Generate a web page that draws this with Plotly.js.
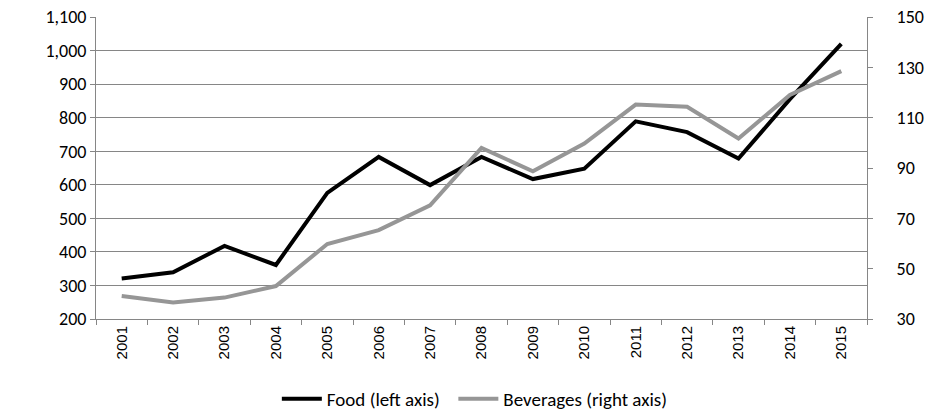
<!DOCTYPE html>
<html><head><meta charset="utf-8">
<script src="https://cdn.plot.ly/plotly-3.0.1.min.js"></script>
<style>html,body{margin:0;padding:0;background:#fff}#c{width:929px;height:412px}</style>
</head><body><div id="c"></div>
<script>
const years = ["2001","2002","2003","2004","2005","2006","2007","2008","2009","2010","2011","2012","2013","2014","2015"];
const food = [321, 339, 418, 361, 576, 683, 599, 683, 617, 648, 789, 757, 678, 855, 1020];
const beverages = [39.1, 36.6, 38.5, 43.1, 59.8, 65.3, 75.2, 98.0, 88.7, 99.7, 115.2, 114.3, 101.7, 119.0, 128.5];
const leftTicks = [200,300,400,500,600,700,800,900,1000,1100];
const rightTicks = [30,50,70,90,110,130,150];

const labFont = {family: "Carlito, Lato, 'Open Sans', sans-serif", size: 18, color: "#000"};
const legFont = {family: "Carlito, Lato, 'Open Sans', sans-serif", size: 19, color: "#000"};
const traces = [
  {x: years, y: food, type: "scatter", mode: "lines", name: "Food (left axis)",
   line: {color: "#000000", width: 4}, yaxis: "y", legend: "legend"},
  {x: years, y: beverages, type: "scatter", mode: "lines", name: "Beverages (right axis)",
   line: {color: "#969696", width: 4}, yaxis: "y2", legend: "legend2"}
];
const legCommon = {orientation: "h", xanchor: "left", xref: "container", y: 0.032, yanchor: "middle", yref: "container",
                   font: legFont, itemwidth: 40, bgcolor: "rgba(0,0,0,0)"};
const layout = {
  width: 929, height: 412,
  margin: {l: 96, r: 62, t: 17, b: 93},
  paper_bgcolor: "#fff", plot_bgcolor: "#fff",
  showlegend: true,
  legend: Object.assign({x: 0.298}, legCommon),
  legend2: Object.assign({x: 0.488}, legCommon),
  xaxis: {type: "category", tickangle: -90, tickson: "boundaries", ticks: "outside", ticklen: 5,
          tickcolor: "#868686", showline: true, linecolor: "#868686", linewidth: 1, automargin: false,
          showgrid: false, tickfont: {family: "'Liberation Sans', Arial, sans-serif", size: 15, color: "#000"},
          range: [-0.5, 14.5], fixedrange: true},
  yaxis: {range: [200, 1100], tickvals: leftTicks, tickformat: ",d", ticks: "outside", ticklen: 5, automargin: false,
          tickcolor: "#868686", showline: true, linecolor: "#868686", linewidth: 1,
          showgrid: true, gridcolor: "#868686", gridwidth: 1, zeroline: false, tickfont: labFont},
  yaxis2: {range: [30, 150], tickvals: rightTicks, overlaying: "y", side: "right", ticks: "outside", ticklen: 5, automargin: false,
           ticklabelstandoff: 20, ticklabelposition: "outside",
           tickcolor: "#868686", showline: true, linecolor: "#868686", linewidth: 1,
           showgrid: false, zeroline: false, tickfont: labFont}
};
Plotly.newPlot("c", traces, layout, {displayModeBar: false, staticPlot: true});
</script></body></html>
